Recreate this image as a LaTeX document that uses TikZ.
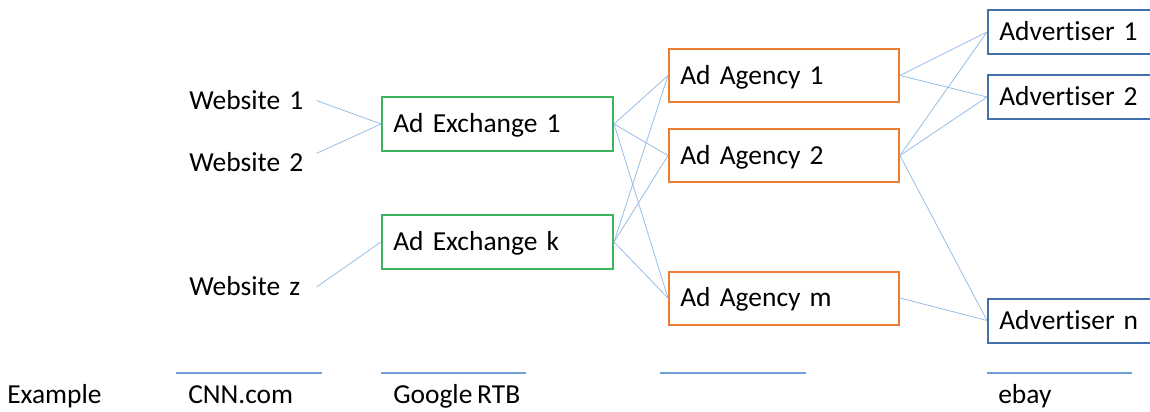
\documentclass[tikz,border=0pt]{standalone}
\usepackage{fontspec}
\setmainfont[Ligatures={NoCommon,NoContextual,NoRequired}]{Carlito}
\newcommand\diagfont{\fontsize{20.6}{24}\selectfont\spaceskip=3.6pt\relax}
\definecolor{exgreen}{RGB}{60,179,95}
\definecolor{agorange}{RGB}{237,125,49}
\definecolor{advblue}{RGB}{65,113,170}
\definecolor{linkblue}{RGB}{150,190,230}
\definecolor{ruleblue}{RGB}{110,160,215}
\begin{document}
\begin{tikzpicture}[x=0.75pt, y=-0.75pt,
  every node/.style={font=\diagfont, text height=13.3pt, text depth=0pt},
  site/.style={anchor=west, inner sep=0pt, text width=95.25pt},
  box/.style={anchor=west, draw, line width=1.5pt, inner xsep=8.5pt, inner ysep=0pt},
  exchange/.style={box, draw=exgreen, text width=156.25pt, minimum height=40.5pt},
  agency/.style={box, draw=agorange, text width=155.5pt, minimum height=39.75pt},
  advertiser/.style={box, draw=advblue, text width=107.5pt, minimum height=33pt},
  link/.style={linkblue, line width=0.6pt},
  rule/.style={ruleblue, line width=1pt},
  caption/.style={anchor=base west, inner sep=0pt}]
\useasboundingbox (0,0) rectangle (1150,411);
\node[site] (site1) at (189,100.5) {Website 1};
\node[site] (site2) at (189,162.5) {Website 2};
\node[site] (sitez) at (189,287) {Website z};
\node[exchange] (exch1) at (381,124) {Ad Exchange 1};
\node[exchange] (exchk) at (381,242) {Ad Exchange k};
\node[agency] (agency1) at (668,75.5) {Ad Agency 1};
\node[agency] (agency2) at (668,155.5) {Ad Agency 2};
\node[agency] (agencym) at (668,298) {Ad Agency m};
\node[advertiser] (adv1) at (987,32) {Adver\kern0pt tiser 1};
\node[advertiser] (adv2) at (987,97) {Adver\kern0pt tiser 2};
\node[advertiser] (advn) at (987,320.5) {Adver\kern0pt tiser n};
\draw[link] (site1.east) -- (exch1.west);
\draw[link] (site2.north east) -- (exch1.west);
\draw[link] (sitez.east) -- (exchk.west);
\foreach \s/\t in {exch1/agency1, exch1/agency2, exch1/agencym, exchk/agency1, exchk/agency2, exchk/agencym,
  agency1/adv1, agency1/adv2, agency2/adv1, agency2/adv2, agency2/advn, agencym/advn}
  \draw[link] (\s.east) -- (\t.west);
\foreach \a/\b in {176/322, 381/526, 660/806, 987/1132}
  \draw[rule] (\a,373) -- (\b,373);
\node[caption] (ex) at (7,403) {Example};
\node[caption] (cnn) at (188,403) {CNN.com};
\node[caption] (rtb) at (393,403) {Google RTB};
\node[caption] (ebay) at (998,403) {ebay};
\end{tikzpicture}
\end{document}
